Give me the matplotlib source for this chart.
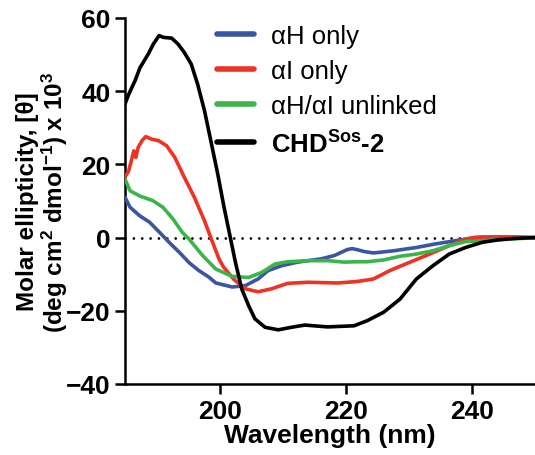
import matplotlib
matplotlib.use("Agg")
import matplotlib.pyplot as plt

plt.rcParams['font.family'] = ['Liberation Sans', 'DejaVu Sans']
plt.rcParams['mathtext.fontset'] = 'custom'
plt.rcParams['mathtext.rm'] = 'Liberation Sans'
plt.rcParams['mathtext.bf'] = 'Liberation Sans:bold'

# ---- data ----
black_nm = [185, 185.6, 186.6, 187.4, 187.9, 188.7, 189.5, 190.4, 191.1, 192.4, 193.4, 194.4,
            195.5, 196.5, 197.6, 198.6, 199.7, 200.7, 201.7, 202.5, 203.5, 204.6, 205.6,
            207.2, 209.3, 211.4, 213.5, 217.1, 221.3, 223.4, 226.0, 228.6, 231.2, 233.8,
            236.4, 239.0, 241.6, 244.2, 247, 250]
black_val = [36.5, 39.2, 42.9, 46.5, 47.9, 50.2, 52.9, 55.2, 54.7, 54.5, 52.9, 50.6,
             47.4, 42.0, 34.7, 26.5, 17.4, 8.3, 0.0, -6.7, -14.0, -18.6, -22.2,
             -24.5, -25.2, -24.5, -23.9, -24.4, -24.1, -22.7, -20.4, -16.8, -11.3, -7.7,
             -4.5, -2.7, -1.3, -0.6, -0.2, 0.0]

red_nm = [185, 185.6, 186.4, 186.7, 187.1, 187.7, 188.3, 189.2, 190.3, 191.6, 192.9, 194.4,
          196.0, 197.6, 198.6, 199.9, 200.6, 202.3, 204.1, 206.1, 208.2, 210.8, 214.0,
          218.7, 221.8, 224.4, 227.0, 230.2, 233.3, 236.4, 239.0, 240.6, 245, 250]
red_val = [16.5, 18.3, 23.7, 21.9, 24.7, 26.5, 27.6, 26.9, 26.5, 25.1, 21.9, 16.5,
           11.0, 4.6, 0.0, -5.8, -8.0, -11.5, -14.0, -14.8, -14.0, -12.5, -12.2,
           -12.4, -12.0, -11.3, -9.0, -6.7, -4.5, -2.2, -0.4, 0.1, 0.2, 0.0]

green_nm = [185, 185.8, 187.3, 189.4, 191.0, 192.6, 194.1, 195.1, 197.3, 199.4, 202.0,
            204.6, 206.7, 208.8, 210.8, 214.0, 217.1, 219.7, 221.8, 223.4, 226.0, 228.6,
            231.2, 233.8, 236.4, 239.0, 244.2, 250]
green_val = [16.0, 12.8, 11.4, 10.1, 8.3, 5.1, 1.4, -0.3, -4.9, -8.6, -10.6,
             -10.9, -9.5, -7.2, -6.6, -6.3, -6.3, -6.7, -6.6, -6.6, -6.1, -5.1,
             -4.5, -3.6, -2.2, -1.1, -0.6, 0.0]

blue_nm = [185, 185.8, 187.3, 188.9, 190.5, 192.0, 193.6, 195.2, 196.7, 198.3, 199.4,
           202.0, 204.1, 206.1, 207.7, 209.8, 212.4, 216.1, 218.2, 220.2, 221.0, 221.8,
           222.9, 224.4, 227.6, 231.2, 234.3, 239.0, 241.6, 245, 250]
blue_val = [11.0, 8.3, 6.0, 4.2, 1.4, -1.3, -4.0, -6.9, -9.0, -10.8, -12.4,
            -13.5, -13.1, -11.3, -9.0, -7.7, -6.7, -5.8, -4.9, -3.3, -3.0, -3.3,
            -3.8, -4.2, -3.6, -2.7, -1.7, -0.4, 0.1, 0.2, 0.0]

labels = [r'αH only', r'αI only', r'αH/αI unlinked', r'CHD$^{\mathbf{Sos}}$-2']
colors = ['#3A55A6', '#EE3224', '#3BB54A', '#000000']
x_ticks = [200, 220, 240]
y_ticks = [-40, -20, 0, 20, 40, 60]

fig = plt.figure(figsize=(5.35, 4.56), dpi=100)
ax = fig.add_axes([125/535, (456-385)/456, 410/535, (385-19)/456])

ax.axhline(0, color='black', lw=2.0, linestyle=(0, (0.01, 3)), dash_capstyle='round', zorder=1)

series = [(blue_nm, blue_val), (red_nm, red_val), (green_nm, green_val), (black_nm, black_val)]
handles = []
for (xs, ys), c, lab in zip(series, colors, labels):
    h, = ax.plot(xs, ys, color=c, lw=2.6, label=lab, solid_joinstyle='round',
                 solid_capstyle='round', zorder=3)
    handles.append(h)

ax.set_xlim(185, 250)
ax.set_ylim(-40, 60)
ax.set_xticks(x_ticks)
ax.set_yticks(y_ticks)
for s in ['top', 'right']:
    ax.spines[s].set_visible(False)
for s in ['left', 'bottom']:
    ax.spines[s].set_linewidth(1.8)
ax.tick_params(width=1.8, length=7.5, labelsize=19, pad=3)
for t in ax.get_xticklabels() + ax.get_yticklabels():
    t.set_fontweight('bold')

ax.set_xlabel('Wavelength (nm)', fontsize=19, fontweight='bold', labelpad=0)
ax.set_ylabel('Molar ellipticity, [θ]\n(deg cm$\\mathbf{^2}$ dmol$\\mathbf{^{-1}}$) x 10$\\mathbf{^3}$',
              fontsize=17.5, fontweight='bold', labelpad=-3, linespacing=1.05)

leg = ax.legend(handles=handles, loc='upper left', bbox_to_anchor=(217/535, 1 - 25/456),
                bbox_transform=fig.transFigure, frameon=False, fontsize=18.5,
                handlelength=1.45, handletextpad=0.65, labelspacing=0.42, borderpad=0,
                borderaxespad=0)
for lh in leg.legend_handles:
    lh.set_linewidth(4)
leg.get_texts()[3].set_fontweight('bold')

fig.savefig('out.png', dpi=100)
